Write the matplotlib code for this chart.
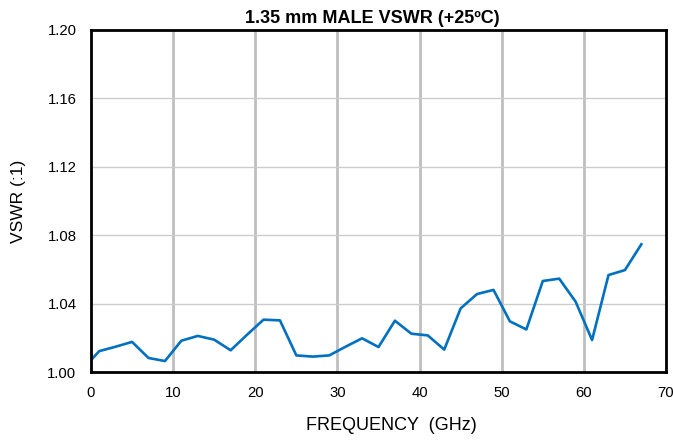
import matplotlib
matplotlib.use("Agg")
import matplotlib.pyplot as plt

freq_ghz = [0.0, 0.16, 1, 3, 5, 7, 9, 11, 13, 15, 17, 19, 21, 23, 25, 27, 29, 31, 33, 35,
            37, 39, 41, 43, 45, 47, 49, 51, 53, 55, 57, 59, 61, 63, 65, 67]
vswr = [1.0105, 1.0078, 1.0122, 1.0148, 1.0176, 1.0082, 1.0064, 1.0183, 1.0211, 1.0189,
        1.0127, 1.0218, 1.0306, 1.0302, 1.0097, 1.0090, 1.0097, 1.0148, 1.0197, 1.0146,
        1.0300, 1.0224, 1.0214, 1.0131, 1.0372, 1.0456, 1.0480, 1.0296, 1.0249, 1.0532,
        1.0546, 1.0411, 1.0187, 1.0567, 1.0596, 1.0747]
x_ticks = [0, 10, 20, 30, 40, 50, 60, 70]
y_ticks = [1.00, 1.04, 1.08, 1.12, 1.16, 1.20]
y_tick_labels = ["1.00", "1.04", "1.08", "1.12", "1.16", "1.20"]

plt.rcParams["font.family"] = ["Liberation Sans", "DejaVu Sans"]

fig = plt.figure(figsize=(6.73, 4.40), dpi=100)
ax = fig.add_axes([91/673, 1-372/440, 575/673, 342/440])

for xv in x_ticks[1:-1]:
    ax.axvline(xv, color="#bfbfbf", lw=2.0, zorder=1)
for yv in y_ticks[1:-1]:
    ax.axhline(yv, color="#cccccc", lw=1.0, zorder=1)

ax.plot(freq_ghz, vswr, color="#0070C0", lw=1.9, zorder=3)

ax.set_xlim(0, 70)
ax.set_ylim(1.00, 1.20)
ax.set_xticks(x_ticks)
ax.set_yticks(y_ticks)
ax.set_yticklabels(y_tick_labels)
ax.tick_params(axis="both", length=0, labelsize=10.7, colors="#000000")
ax.tick_params(axis="x", pad=10)
ax.tick_params(axis="y", pad=10.5)

for s in ax.spines.values():
    s.set_linewidth(2.0)
    s.set_color("black")
    s.set_zorder(4)

ax.set_title("1.35 mm MALE VSWR (+25\u00baC)", fontsize=13, fontweight="bold",
             x=(372-91)/575, pad=5)
ax.set_xlabel("FREQUENCY  (GHz)", fontsize=13)
ax.xaxis.set_label_coords((391-91)/575, (372-417)/342)
ax.set_ylabel("VSWR (:1)", fontsize=12.5)
ax.yaxis.set_label_coords((26-91)/575, 0.5)

fig.savefig("out.png", dpi=100)
